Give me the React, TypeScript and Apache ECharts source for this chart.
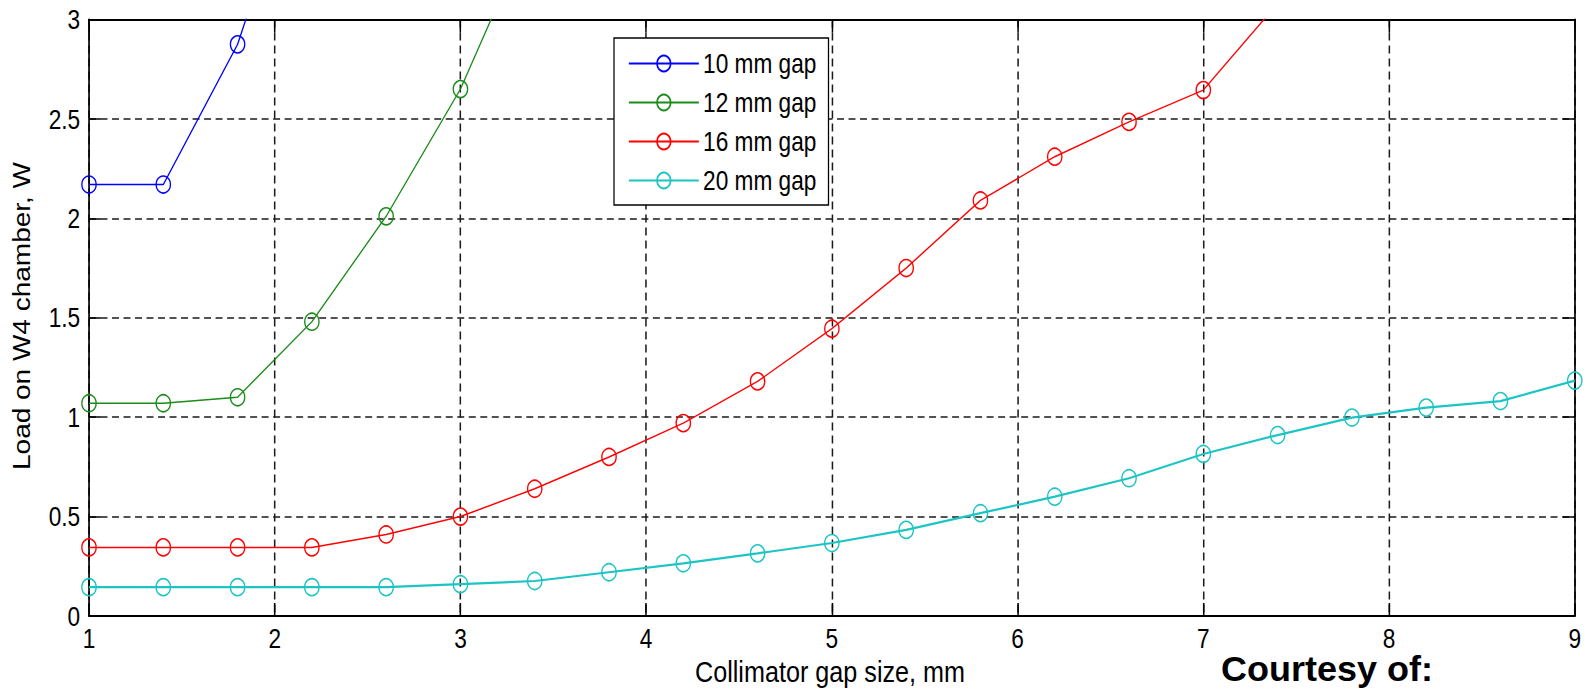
import React, { useEffect, useRef } from "react";
import * as echarts from "echarts";

// ---- data ----
const xValues = [1, 1.4, 1.8, 2.2, 2.6, 3, 3.4, 3.8, 4.2, 4.6, 5, 5.4, 5.8, 6.2, 6.6, 7, 7.4, 7.8, 8.2, 8.6, 9];
const gap10 = [2.17, 2.17, 2.875, 4.0];
const gap12 = [1.07, 1.07, 1.1, 1.48, 2.01, 2.65, 3.5];
const gap16 = [0.345, 0.345, 0.345, 0.345, 0.41, 0.5, 0.64, 0.8, 0.97, 1.18, 1.445, 1.75, 2.09, 2.31, 2.485, 2.645, 3.08];
const gap20 = [0.145, 0.145, 0.145, 0.145, 0.145, 0.16, 0.176, 0.22, 0.265, 0.315, 0.367, 0.433, 0.517, 0.6, 0.693, 0.815, 0.91, 0.998, 1.048, 1.081, 1.184];
const seriesNames = ["10 mm gap", "12 mm gap", "16 mm gap", "20 mm gap"];
const seriesColors = ["#0000ff", "#1a8c1a", "#ff0000", "#1cc4c4"];
const xTitle = "Collimator gap size, mm";
const yTitle = "Load on W4 chamber, W";
const courtesy = "Courtesy of:";

const FONT = '"Liberation Sans", Arial, sans-serif';
// the reference figure is horizontally squeezed; the chart is drawn wide and squeezed back with CSS
const SX = 0.84;
const W = 1587 / SX;
const H = 691;

function pairs(ys: number[]) {
  return ys.map((y, i) => [xValues[i], y]);
}

export default function App() {
  const ref = useRef<HTMLDivElement>(null);
  useEffect(() => {
    if (!ref.current) return;
    const chart = echarts.init(ref.current, null, { renderer: "svg" });
    const allData = [gap10, gap12, gap16, gap20];
    const widths = [1.5, 1.5, 1.5, 2.2];
    const gridLine = (dash: number[], w: number) => ({ show: true, lineStyle: { color: "#1a1a1a", width: w, type: dash } });
    const axisLine = { show: true, onZero: false, lineStyle: { color: "#000", width: 2 } };
    const tickX = { show: true, inside: true, length: 13, lineStyle: { color: "#000", width: 1.8 } };
    const tickY = { show: true, inside: true, length: 14, lineStyle: { color: "#000", width: 1.5 } };
    const option: any = {
      animation: false,
      backgroundColor: "#fff",
      grid: { left: 89 / SX, right: 12 / SX, top: 19.5, bottom: 75, containLabel: false, outerBoundsMode: "none" },
      xAxis: [
        {
          type: "value", min: 1, max: 9, interval: 1, position: "bottom",
          axisLine, axisTick: tickX,
          axisLabel: { color: "#000", fontFamily: FONT, fontSize: 27, lineHeight: 22, margin: 11 },
          splitLine: gridLine([8, 5], 1.8),
        },
        {
          type: "value", min: 1, max: 9, interval: 1, position: "top",
          axisLine, axisTick: tickX, axisLabel: { show: false }, splitLine: { show: false },
        },
      ],
      yAxis: [
        {
          type: "value", min: 0, max: 3, interval: 0.5, position: "left",
          axisLine, axisTick: tickY,
          axisLabel: { color: "#000", fontFamily: FONT, fontSize: 27, lineHeight: 22, margin: 10.5 },
          splitLine: gridLine([8.3, 5.4], 1.5),
        },
        {
          type: "value", min: 0, max: 3, interval: 0.5, position: "right",
          axisLine, axisTick: tickY, axisLabel: { show: false }, splitLine: { show: false },
        },
      ],
      legend: {
        left: 614 / SX, top: 38, orient: "vertical",
        data: seriesNames,
        itemWidth: 70 / SX, itemHeight: 20, itemGap: 12,
        padding: [12, 12 / SX, 11, 14 / SX],
        backgroundColor: "#fff", borderColor: "#000", borderWidth: 1.5,
        textStyle: { color: "#000", fontFamily: FONT, fontSize: 27, lineHeight: 27 },
      },
      series: allData.map((ys, i) => ({
        name: seriesNames[i],
        type: "line",
        xAxisIndex: 0, yAxisIndex: 0,
        data: pairs(ys),
        symbol: "circle",
        symbolSize: 17,
        showSymbol: true,
        clip: true,
        lineStyle: { color: seriesColors[i], width: widths[i] },
        itemStyle: { color: "rgba(255,255,255,0)", borderColor: seriesColors[i], borderWidth: 1.6 },
        z: 3 + i,
      })),
      graphic: [
        {
          type: "text", x: 830 / SX, y: 672, z: 10,
          style: { text: xTitle, fill: "#000", font: `30px ${FONT}`, align: "center", verticalAlign: "middle" },
        },
        {
          type: "text", x: 22 / SX, y: 316, rotation: Math.PI / 2, z: 10,
          style: { text: yTitle, fill: "#000", font: `28px ${FONT}`, align: "center", verticalAlign: "middle" },
        },
        {
          type: "text", x: 1221 / SX, y: 668, scaleX: 1 / SX, z: 10,
          style: { text: courtesy, fill: "#000", font: `bold 36px ${FONT}`, lineHeight: 28, align: "left", verticalAlign: "middle" },
        },
      ],
    };
    chart.setOption(option);
    return () => chart.dispose();
  }, []);
  return (
    <div style={{ position: "fixed", left: 0, top: 0, width: 1587, height: H, overflow: "hidden" }}>
      <div
        ref={ref}
        style={{ width: W, height: H, transform: `scaleX(${SX})`, transformOrigin: "0 0" }}
      />
    </div>
  );
}
